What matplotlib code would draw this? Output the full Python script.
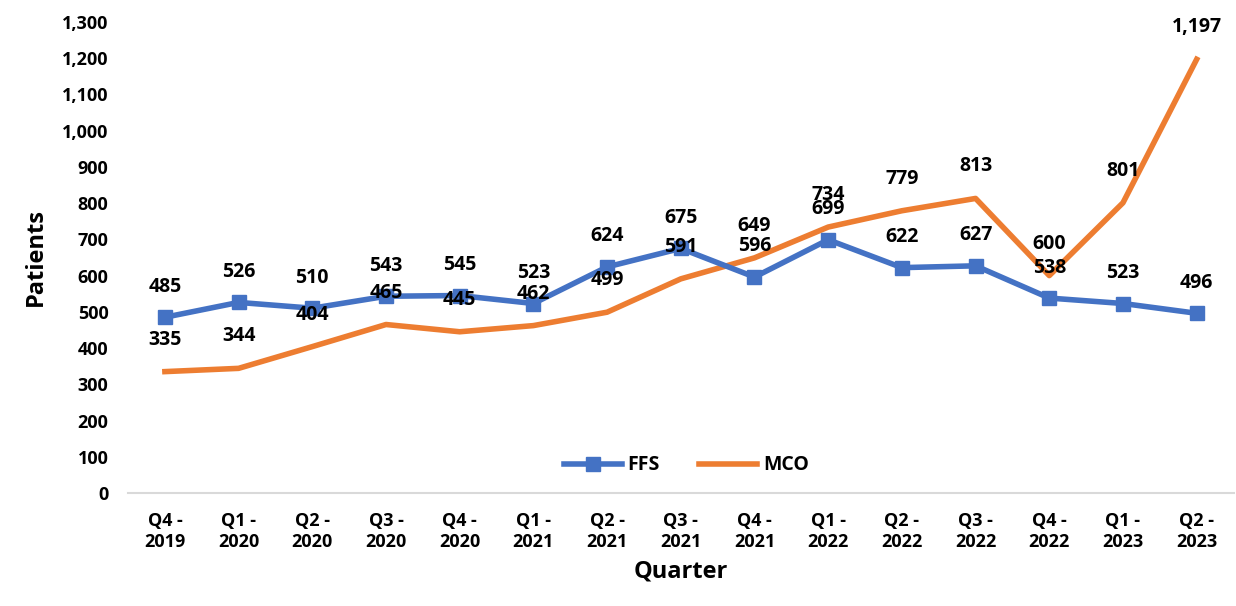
import matplotlib.pyplot as plt
import numpy as np

plt.rcParams['font.family'] = ['Open Sans', 'DejaVu Sans']
plt.rcParams['font.weight'] = 'bold'

quarters = ["Q4 -\n2019", "Q1 -\n2020", "Q2 -\n2020", "Q3 -\n2020", "Q4 -\n2020",
            "Q1 -\n2021", "Q2 -\n2021", "Q3 -\n2021", "Q4 -\n2021", "Q1 -\n2022",
            "Q2 -\n2022", "Q3 -\n2022", "Q4 -\n2022", "Q1 -\n2023", "Q2 -\n2023"]
ffs = [485, 526, 510, 543, 545, 523, 624, 675, 596, 699, 622, 627, 538, 523, 496]
mco = [335, 344, 404, 465, 445, 462, 499, 591, 649, 734, 779, 813, 600, 801, 1197]

blue = "#4472C4"
orange = "#ED7D31"

fig = plt.figure(figsize=(12.36, 6.06), dpi=100)
ax = fig.add_axes([0.1036, 0.1865, 0.8944, 0.7772])

x = np.arange(len(quarters))
ax.plot(x, ffs, color=blue, lw=4, marker="s", ms=10, label="FFS", zorder=3)
ax.plot(x, mco, color=orange, lw=4, label="MCO", zorder=2)

# data labels above each point
for i in range(len(x)):
    ax.annotate(f"{ffs[i]:,}", (x[i], ffs[i]), xytext=(0, 22), textcoords="offset points",
                ha="center", va="center", fontsize=14, fontweight="bold", color="black")
    ax.annotate(f"{mco[i]:,}", (x[i], mco[i]), xytext=(0, 23), textcoords="offset points",
                ha="center", va="center", fontsize=14, fontweight="bold", color="black")

ax.set_xlim(-0.5, len(x) - 0.5)
ax.set_ylim(0, 1300)
ax.set_yticks(range(0, 1301, 100))
ax.set_yticklabels([f"{v:,}" for v in range(0, 1301, 100)], fontsize=13, fontweight="bold")
ax.set_xticks(x)
ax.set_xticklabels(quarters, fontsize=13, fontweight="bold")
ax.tick_params(length=0, pad=14)

for s in ["top", "right", "left"]:
    ax.spines[s].set_visible(False)
ax.spines["bottom"].set_color("#D9D9D9")
ax.spines["bottom"].set_linewidth(1.5)

ax.set_ylabel("Patients", fontsize=17, fontweight="bold", labelpad=10)
ax.set_xlabel("Quarter", fontsize=17, fontweight="bold", labelpad=6)

ax.legend(loc="lower center", bbox_to_anchor=(0.505, 0.0), ncol=2, frameon=False,
          fontsize=14, handlelength=3.0, columnspacing=2.0, handletextpad=0.3)

fig.savefig("out.png", dpi=100)
